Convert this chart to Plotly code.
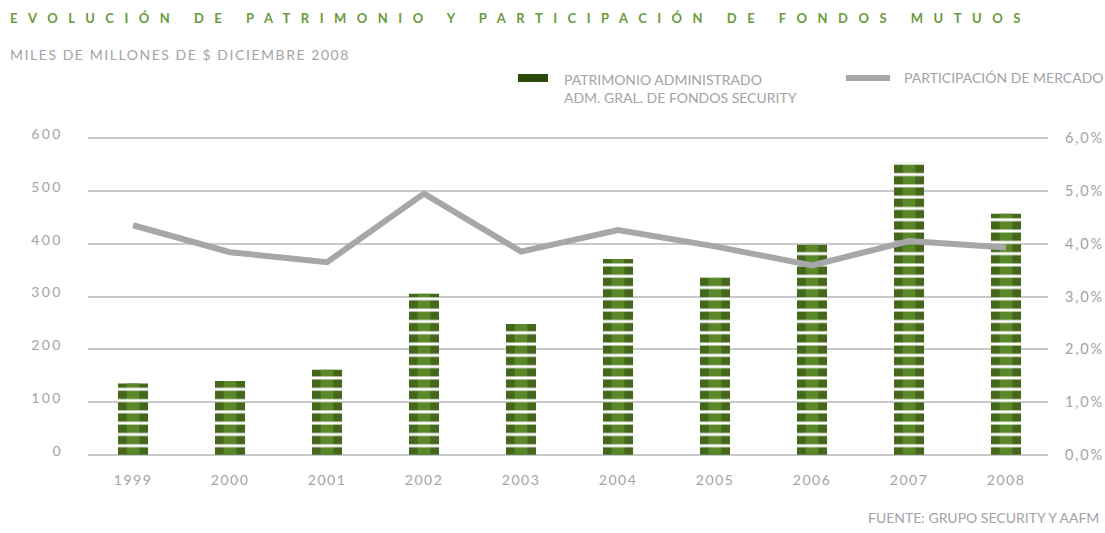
import plotly.graph_objects as go

# Data: assets under management (thousand million $) and market share (%)
years = ["1999", "2000", "2001", "2002", "2003", "2004", "2005", "2006", "2007", "2008"]
patrimonio = [135, 140, 161, 305, 248, 371, 338, 398, 555, 457]
participacion = [4.35, 3.84, 3.65, 4.95, 3.85, 4.26, 3.95, 3.59, 4.05, 3.93]
left_ticks = [0, 100, 200, 300, 400, 500, 600]
right_ticks = [0, 1, 2, 3, 4, 5, 6]

W, H = 1105, 533
ML, MR, MT, MB = 88, 57, 135, 75
PW, PH = W - ML - MR, H - MT - MB

GRAY_TXT = "#a3a3a6"
GRID = "#c9c9cb"
LINE = "#a7a7aa"
GREEN_T = "#6a9a3a"
FONT = "Lato"


def px(x):
    return (x - ML) / PW


def py(y):
    return (H - MB - y) / PH


def spaced(t, s):
    return f'<span style="letter-spacing:{s}px">{t}</span>'


fig = go.Figure()

stripe = dict(shape="-", fgcolor="white", fgopacity=1, size=11.3, solidity=0.26,
              fillmode="overlay")

# outer bar body
fig.add_trace(go.Bar(
    x=years, y=patrimonio, width=0.31, name="PATRIMONIO ADMINISTRADO",
    marker=dict(color="#44671c", line=dict(width=0), pattern=stripe),
    showlegend=False, hoverinfo="x+y",
))
# lighter core for the shaded look
fig.add_trace(go.Bar(
    x=years, y=patrimonio, width=0.13,
    marker=dict(color="#5a8828", line=dict(width=0), pattern=stripe),
    showlegend=False, hoverinfo="skip",
))
fig.add_trace(go.Scatter(
    x=years, y=participacion, yaxis="y2", mode="lines",
    line=dict(color=LINE, width=6), name="PARTICIPACIÓN DE MERCADO",
    showlegend=False,
))

fig.update_layout(
    width=W, height=H, margin=dict(l=ML, r=MR, t=MT, b=MB, autoexpand=False),
    paper_bgcolor="white", plot_bgcolor="white",
    barmode="overlay", separators=",.",
    font=dict(family=FONT, color=GRAY_TXT, size=13),
    xaxis=dict(
        type="category", range=[-0.464, 9.433], showgrid=False, zeroline=False,
        showline=False, ticks="", tickfont=dict(size=14, color=GRAY_TXT),
        tickvals=years, ticktext=[spaced(y, 1.5) for y in years], ticklabelstandoff=12,
        automargin=False,
    ),
    yaxis=dict(
        range=[-6, 606], tickvals=left_ticks, ticktext=[spaced(v, 2.5) for v in left_ticks],
        showgrid=True, gridcolor=GRID, gridwidth=1.5, zeroline=False, showline=False,
        ticks="", tickfont=dict(size=14, color=GRAY_TXT), ticklabelstandoff=24,
        ticklabelshift=-4, automargin=False,
    ),
    yaxis2=dict(
        range=[-0.06, 6.06], overlaying="y", side="right", tickvals=right_ticks,
        ticktext=[spaced(f"{v},0%", 1.8) for v in right_ticks],
        showgrid=False, zeroline=False, showline=False, ticks="",
        tickfont=dict(size=14.5, color=GRAY_TXT), ticklabelstandoff=16,
        automargin=False,
    ),
)

anns = []
anns.append(dict(
    text="<b>" + spaced("EVOLUCIÓN DE PATRIMONIO Y PARTICIPACIÓN DE FONDOS MUTUOS", 10.5) + "</b>",
    x=px(8), y=py(18), xanchor="left", yanchor="middle",
    font=dict(size=13, color=GREEN_T, family=FONT),
))
anns.append(dict(
    text=spaced("MILES DE MILLONES DE $ DICIEMBRE 2008", 1.55),
    x=px(8), y=py(54), xanchor="left", yanchor="middle",
    font=dict(size=14, color=GRAY_TXT, family=FONT),
))
anns.append(dict(
    text="PATRIMONIO ADMINISTRADO<br>ADM. GRAL. DE FONDOS SECURITY",
    x=px(562), y=py(69), xanchor="left", yanchor="top", align="left",
    font=dict(size=14, color=GRAY_TXT, family=FONT),
))
anns.append(dict(
    text="PARTICIPACIÓN DE MERCADO",
    x=px(902), y=py(78), xanchor="left", yanchor="middle",
    font=dict(size=14, color=GRAY_TXT, family=FONT),
))
anns.append(dict(
    text="FUENTE: GRUPO SECURITY Y AAFM",
    x=px(1101), y=py(517), xanchor="right", yanchor="middle",
    font=dict(size=14, color=GRAY_TXT, family=FONT),
))
for a in anns:
    a.update(xref="paper", yref="paper", showarrow=False)
fig.update_layout(annotations=anns)

fig.update_layout(shapes=[
    dict(type="rect", xref="paper", yref="paper", x0=px(518), x1=px(548),
         y0=py(82), y1=py(74), fillcolor="#2a4a0c", line=dict(width=0)),
    dict(type="line", xref="paper", yref="paper", x0=px(846), x1=px(890),
         y0=py(78), y1=py(78), line=dict(color=LINE, width=6)),
])

fig.write_html("out.html")
